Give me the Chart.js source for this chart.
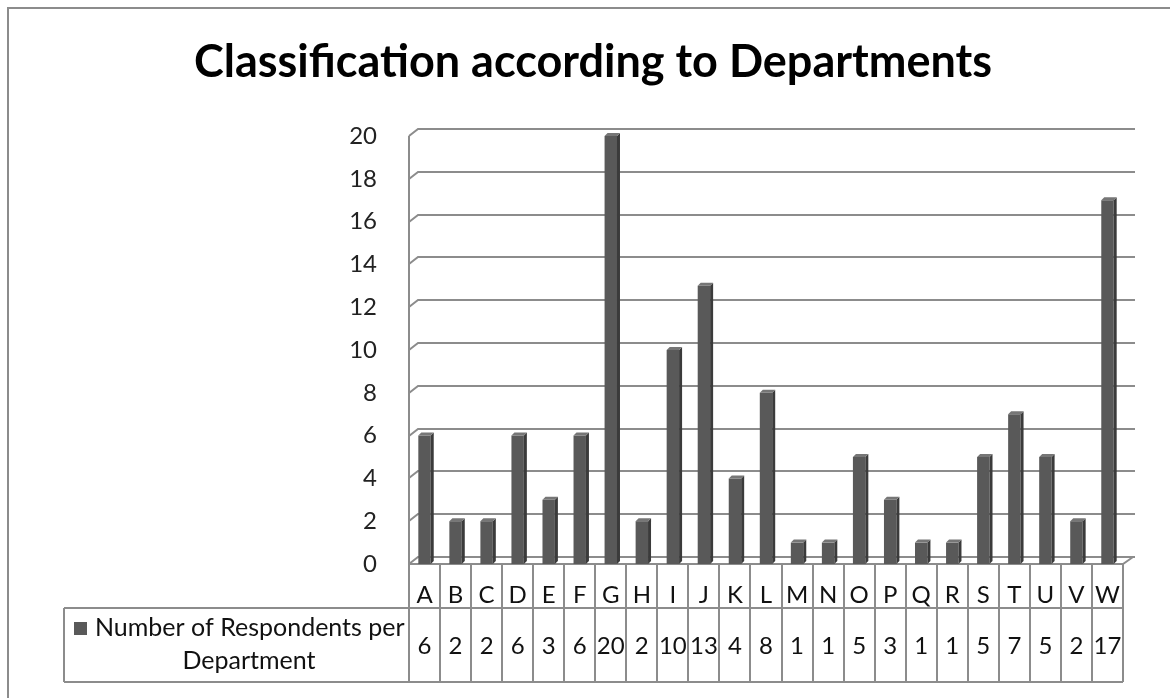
<!DOCTYPE html>
<html>
<head>
<meta charset="utf-8">
<script src="https://cdn.jsdelivr.net/npm/chart.js@4.4.1/dist/chart.umd.min.js"></script>
<style>
  html, body { margin: 0; padding: 0; background: #fff; }
  canvas { display: block; }
</style>
</head>
<body>
<canvas id="deptChart" width="1170" height="698"></canvas>
<script>
// chart data
const chartTitle = 'Classification according to Departments';
const seriesName = ['Number of Respondents per', 'Department'];
const departments = ['A', 'B', 'C', 'D', 'E', 'F', 'G', 'H', 'I', 'J', 'K', 'L',
  'M', 'N', 'O', 'P', 'Q', 'R', 'S', 'T', 'U', 'V', 'W'];
const respondents = [6, 2, 2, 6, 3, 6, 20, 2, 10, 13, 4, 8, 1, 1, 5, 3, 1, 1, 5, 7, 5, 2, 17];
const yMin = 0;
const yMax = 20;
const yStep = 2;

const lineGray = '#8c8c8c';
const barFront = '#595959';
const barSide = '#3b3b3b';
const barTop = '#767676';
const fontFamily = 'Lato, "Open Sans", sans-serif';

// depth of the fake 3d walls
const DX = 9, DY = -7;

const excel3d = {
  id: 'excel3d',
  beforeDraw(chart) {
    const ctx = chart.ctx;
    ctx.save();
    // outer frame (only top + left visible)
    ctx.strokeStyle = lineGray;
    ctx.lineWidth = 2;
    ctx.beginPath();
    ctx.moveTo(8, 698);
    ctx.lineTo(8, 8);
    ctx.lineTo(1170, 8);
    ctx.stroke();
    // title
    ctx.fillStyle = '#000';
    ctx.font = 'bold 45px ' + fontFamily;
    ctx.textAlign = 'center';
    ctx.textBaseline = 'middle';
    ctx.fillText(chartTitle, 593, 62);
    ctx.restore();
  },
  beforeDatasetsDraw(chart) {
    const ctx = chart.ctx;
    const area = chart.chartArea;
    const y = chart.scales.y;
    ctx.save();
    ctx.strokeStyle = lineGray;
    ctx.lineWidth = 2;
    // gridlines on the back wall
    for (let v = yMin; v <= yMax; v += yStep) {
      const py = Math.round(y.getPixelForValue(v));
      ctx.beginPath();
      ctx.moveTo(area.left, py);
      ctx.lineTo(area.left + DX, py + DY);
      ctx.lineTo(area.right + 12, py + DY);
      ctx.stroke();
    }
    // left wall edge
    ctx.beginPath();
    ctx.moveTo(area.left, Math.round(y.getPixelForValue(yMax)));
    ctx.lineTo(area.left, area.bottom);
    ctx.stroke();
    // floor front and right edge
    ctx.beginPath();
    ctx.moveTo(area.left, area.bottom);
    ctx.lineTo(area.right, area.bottom);
    ctx.lineTo(area.right + DX + 1, area.bottom + DY);
    ctx.stroke();
    ctx.restore();
  },
  afterDatasetsDraw(chart) {
    const ctx = chart.ctx;
    const meta = chart.getDatasetMeta(0);
    const d = 3;
    ctx.save();
    meta.data.forEach(bar => {
      const left = bar.x - bar.width / 2;
      const right = bar.x + bar.width / 2;
      ctx.fillStyle = barSide;
      ctx.beginPath();
      ctx.moveTo(right, bar.y);
      ctx.lineTo(right + d, bar.y - d);
      ctx.lineTo(right + d, bar.base - d);
      ctx.lineTo(right, bar.base);
      ctx.closePath();
      ctx.fill();
      ctx.fillStyle = barTop;
      ctx.beginPath();
      ctx.moveTo(left, bar.y);
      ctx.lineTo(left + d, bar.y - d);
      ctx.lineTo(right + d, bar.y - d);
      ctx.lineTo(right, bar.y);
      ctx.closePath();
      ctx.fill();
    });
    ctx.restore();
  },
  afterDraw(chart) {
    // data table under the plot
    const ctx = chart.ctx;
    const area = chart.chartArea;
    const x = chart.scales.x;
    const colW = (area.right - area.left) / departments.length;
    const top = area.bottom;
    const mid = 608;
    const bottom = 682;
    const legendLeft = 64;

    ctx.save();
    ctx.strokeStyle = lineGray;
    ctx.lineWidth = 2;
    ctx.beginPath();
    for (let i = 0; i <= departments.length; i++) {
      const px = Math.round(area.left + i * colW);
      ctx.moveTo(px, top);
      ctx.lineTo(px, bottom);
    }
    ctx.moveTo(legendLeft, mid);
    ctx.lineTo(area.right, mid);
    ctx.moveTo(legendLeft, bottom);
    ctx.lineTo(area.right, bottom);
    ctx.moveTo(legendLeft, mid);
    ctx.lineTo(legendLeft, bottom);
    ctx.stroke();

    ctx.fillStyle = '#111';
    ctx.font = '24px ' + fontFamily;
    ctx.textAlign = 'center';
    ctx.textBaseline = 'middle';
    departments.forEach((name, i) => {
      const cx = x.getPixelForValue(i);
      ctx.fillText(name, cx, 595);
      ctx.fillText(String(respondents[i]), cx, 646);
    });

    // legend cell
    ctx.fillStyle = barFront;
    ctx.fillRect(74, 622, 13, 13);
    ctx.fillStyle = '#111';
    ctx.font = '25px ' + fontFamily;
    ctx.textAlign = 'left';
    ctx.fillText(seriesName[0], 95, 628);
    ctx.textAlign = 'center';
    ctx.fillText(seriesName[1], 249, 661);
    ctx.restore();
  }
};

new Chart(document.getElementById('deptChart'), {
  type: 'bar',
  data: {
    labels: departments,
    datasets: [{
      label: seriesName.join(' '),
      data: respondents,
      backgroundColor: barFront,
      borderWidth: 0,
      barPercentage: 0.4,
      categoryPercentage: 1
    }]
  },
  options: {
    responsive: false,
    animation: false,
    layout: { padding: { left: 0, right: 47, top: 136, bottom: 134 } },
    plugins: {
      legend: { display: false },
      tooltip: { enabled: false },
      title: { display: false }
    },
    scales: {
      x: { display: false },
      y: {
        min: yMin,
        max: yMax,
        ticks: { stepSize: yStep, color: '#222', padding: 24, font: { family: fontFamily, size: 24 } },
        grid: { display: false },
        border: { display: false },
        afterFit(scale) { scale.width = 409; }
      }
    }
  },
  plugins: [excel3d]
});
</script>
</body>
</html>
